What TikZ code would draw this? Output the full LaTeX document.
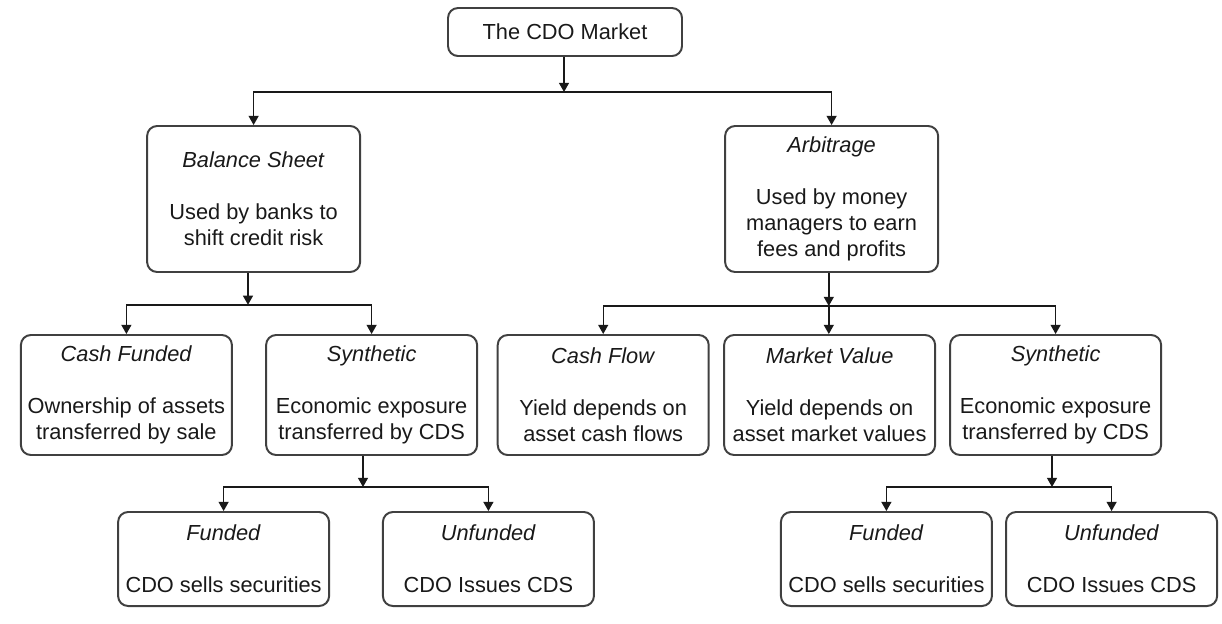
\documentclass[tikz,border=0pt]{standalone}
\usepackage{fontspec}
\setmainfont{Liberation Sans}
\usetikzlibrary{arrows.meta}

\begin{document}
\begin{tikzpicture}[
    box/.style={draw=black!75, line width=1.4pt, rounded corners=0.25cm, align=center, inner sep=2pt, text=black!90, font=\fontsize{15.5}{18.5}\selectfont},
    rootbox/.style={box, minimum width=5.85cm, minimum height=1.2cm},
    typebox/.style={box, minimum width=5.325cm, minimum height=3.65cm},
    kindbox/.style={box, minimum width=5.275cm, minimum height=3.0cm},
    leafbox/.style={box, minimum width=5.275cm, minimum height=2.35cm},
    arr/.style={draw=black!90, line width=1pt, -{Triangle[length=0.23cm,width=0.25cm]}}
]
\useasboundingbox (0,0) rectangle (30.55,-15.575);

\node (cdo) at (14.125,-0.8) [rootbox] {The CDO Market};

\node (bal) at (6.34,-4.975) [typebox] {\textit{Balance Sheet}\\[18.5pt]Used by banks to\\shift credit risk};
\node (arb) at (20.79,-4.975) [typebox] {\textit{Arbitrage}\\[18.5pt]Used by money\\managers to earn\\fees and profits};

\node (cashfund) at (3.16,-9.875) [kindbox] {\textit{Cash Funded}\\[18.5pt]Ownership of assets\\transferred by sale};
\node (synl) at (9.29,-9.875) [kindbox] {\textit{Synthetic}\\[18.5pt]Economic exposure\\transferred by CDS};
\node (cashflow) at (15.08,-9.875) [kindbox] {\textit{Cash Flow}\\[18.5pt]Yield depends on\\asset cash flows};
\node (mktval) at (20.74,-9.875) [kindbox] {\textit{Market Value}\\[18.5pt]Yield depends on\\asset market values};
\node (synr) at (26.39,-9.875) [kindbox] {\textit{Synthetic}\\[18.5pt]Economic exposure\\transferred by CDS};

\node (fundl) at (5.59,-13.975) [leafbox] {\textit{Funded}\\[18.5pt]CDO sells securities};
\node (unfl) at (12.21,-13.975) [leafbox] {\textit{Unfunded}\\[18.5pt]CDO Issues CDS};
\node (fundr) at (22.16,-13.975) [leafbox] {\textit{Funded}\\[18.5pt]CDO sells securities};
\node (unfr) at (27.79,-13.975) [leafbox] {\textit{Unfunded}\\[18.5pt]CDO Issues CDS};

\coordinate (j0) at (14.1,-2.3);
\coordinate (j1) at (6.2,-7.62);
\coordinate (j2) at (20.72,-7.65);
\coordinate (j3) at (9.075,-12.175);
\coordinate (j4) at (26.3,-12.175);

\draw[arr] (cdo.south -| j0) -- (j0);
\draw[arr] (j0) -| (bal);
\draw[arr] (j0) -| (arb);

\draw[arr] (bal.south -| j1) -- (j1);
\draw[arr] (j1) -| (cashfund);
\draw[arr] (j1) -| (synl);

\draw[arr] (arb.south -| j2) -- (j2);
\draw[arr] (j2) -| (cashflow);
\draw[arr] (j2) -- (mktval.north -| j2);
\draw[arr] (j2) -| (synr);

\draw[arr] (synl.south -| j3) -- (j3);
\draw[arr] (j3) -| (fundl);
\draw[arr] (j3) -| (unfl);

\draw[arr] (synr.south -| j4) -- (j4);
\draw[arr] (j4) -| (fundr);
\draw[arr] (j4) -| (unfr);
\end{tikzpicture}
\end{document}
